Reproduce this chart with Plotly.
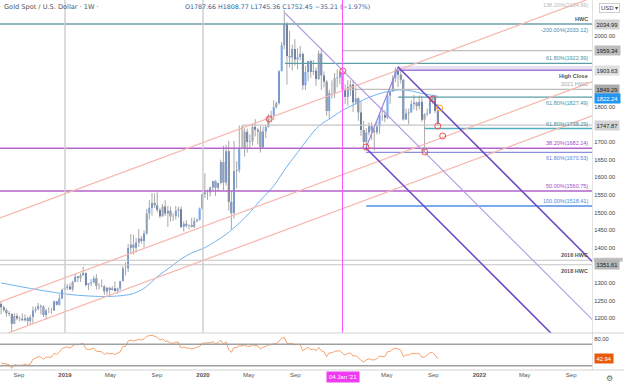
import plotly.graph_objects as go
import pandas as pd

# ---------------- data ----------------
week_start = pd.date_range("2018-07-16", periods=166, freq="7D")

opens = [1241,1231,1223,1214,1212,1184,1206,1199,1198,1194,1200,1192,1203,1222,1226,1235,1233,1209,1222,1222,1222,1248,1238,1256,1280,
         1286,1290,1282,1303,1318,1314,1322,1328,1294,1299,1302,1313,1292,1291,1290,1276,1286,1280,1285,1277,1284,1305,1341,1341,1399,1409,1400,1415,1426,1419,1440,1497,1513,1527,1520,1507,1489,1517,1497,1505,1489,1490,1505,1509,1459,1468,1462,1464,1459,1476,1479,1511,
         1552,1557,1557,1571,1589,1570,1584,1643,1585,1674,1530,1498,1617,1620,1683,1683,1729,1700,1702,1743,1735,1730,1685,1730,1743,1771,1775,1799,1810,1901,1975,2035,1944,1940,1964,1934,1941,1950,1861,1899,1930,1899,1902,1879,1951,1889,1871,1788,1839,1839,1881,1883,
         1898,1849,1828,1856,1863,1813,1824,1784,1734,1700,1727,1745,1732,1728,1744,1777,1777,1769,1831,1844,1881,1904,1891,1877,1764,1781,1784,1808,1812,1802,1814,1763,1779,1781,1818,1827,1787.66]
highs = [1245,1236,1228,1220,1214,1214,1214,1206,1214,1211,1204,1209,1233,1233,1243,1239,1237,1226,1231,1229,1250,1249,1268,1284,1298,
         1297,1299,1306,1326,1319,1327,1346,1330,1298,1311,1320,1325,1299,1310,1294,1288,1289,1291,1304,1287,1306,1348,1358,1411,1439,1437,1428,1453,1433,1449,1510,1535,1555,1554,1557,1513,1524,1535,1519,1517,1498,1519,1516,1517,1475,1478,1466,1485,1486,1483,1514,1553,
         1611,1565,1574,1590,1592,1585,1650,1689,1692,1703,1561,1703,1645,1747,1747,1739,1738,1722,1752,1765,1740,1745,1744,1746,1779,1789,1818,1815,1904,1984,2075,2040,2016,1976,1992,1966,1973,1954,1917,1930,1933,1932,1911,1960,1965,1900,1876,1848,1875,1896,1906,1901,
         1959,1864,1875,1875,1875,1855,1827,1816,1760,1740,1755,1756,1740,1758,1784,1798,1790,1843,1845,1890,1912,1916,1903,1877,1795,1795,1818,1834,1815,1832,1831,1782,1795,1823,1834,1833,1808.77]
lows = [1211,1218,1204,1206,1160,1183,1194,1191,1193,1191,1180,1182,1186,1215,1222,1211,1203,1196,1214,1212,1221,1236,1236,1256,1279,
        1280,1280,1276,1302,1302,1303,1320,1290,1280,1290,1298,1281,1281,1288,1266,1266,1266,1278,1275,1269,1279,1305,1321,1331,1382,1381,1386,1402,1412,1400,1437,1480,1491,1513,1500,1484,1488,1490,1459,1474,1476,1480,1486,1456,1446,1457,1452,1458,1456,1472,1477,1508,
        1541,1536,1546,1563,1547,1561,1580,1563,1576,1505,1451,1482,1568,1613,1680,1659,1670,1683,1690,1716,1693,1670,1681,1711,1741,1757,1762,1795,1806,1901,1963,1863,1911,1903,1917,1906,1932,1848,1848,1873,1882,1890,1859,1876,1848,1855,1775,1765,1823,1825,1855,1864,
        1817,1808,1803,1831,1785,1806,1760,1717,1687,1676,1719,1705,1677,1721,1723,1760,1756,1765,1808,1843,1870,1856,1866,1761,1762,1750,1783,1792,1789,1792,1757,1677,1773,1779,1809,1782,1745.36]
closes = [1231,1223,1214,1212,1184,1206,1199,1198,1194,1200,1192,1203,1222,1226,1235,1233,1209,1222,1222,1222,1248,1238,1256,1280,1286,
          1290,1282,1303,1318,1314,1322,1328,1294,1299,1302,1313,1292,1291,1290,1276,1286,1280,1285,1277,1284,1305,1341,1341,1399,1409,1400,1415,1426,1419,1440,1497,1513,1527,1520,1507,1489,1517,1497,1505,1489,1490,1505,1509,1459,1468,1462,1464,1459,1476,1479,1511,1552,
          1557,1557,1571,1589,1570,1584,1643,1585,1674,1530,1498,1617,1620,1683,1683,1729,1700,1702,1743,1735,1730,1685,1730,1743,1771,1775,1799,1810,1901,1975,2035,1944,1940,1964,1934,1941,1950,1861,1899,1930,1899,1902,1879,1951,1889,1871,1788,1839,1839,1881,1883,1898,
          1849,1828,1856,1863,1813,1824,1784,1734,1700,1727,1745,1732,1728,1744,1777,1777,1769,1831,1844,1881,1904,1891,1877,1764,1781,1784,1808,1812,1802,1814,1763,1779,1781,1818,1827,1788,1752.45]

rsi = [35,34,32,32,25,32,31,31,31,33,31,33,42,44,47,46,42,46,46,46,53,51,56,62,64,
       65,63,67,70,69,70,72,62,60,61,63,57,57,56,51,54,52,53,51,53,56,66,66,76,78,76,78,79,78,80,85,86,87,85,83,78,80,76,76,72,72,74,74,63,65,63,63,61,63,64,66,72,
       72,72,73,75,71,73,78,70,75,60,55,64,64,67,67,69,66,66,69,68,67,61,65,66,69,69,71,71,77,81,83,72,71,72,69,70,70,58,62,64,60,61,58,64,58,56,47,54,54,57,57,58,
       53,50,53,54,48,49,45,40,37,41,43,41,41,43,48,48,47,56,57,61,63,61,59,47,50,50,53,53,52,53,46,46,50,54,55,50,42.94]

ma_dates = ["2018-07-16","2018-09-03","2018-11-05","2019-01-07","2019-03-04","2019-05-06","2019-07-01","2019-08-05",
            "2019-09-02","2019-10-07","2019-11-04","2019-12-02","2020-01-06","2020-02-03","2020-03-02","2020-04-06",
            "2020-05-04","2020-06-01","2020-07-06","2020-08-03","2020-09-07","2020-10-05","2020-11-02","2020-12-07",
            "2021-01-04","2021-02-01","2021-03-01","2021-04-05","2021-05-03","2021-06-07","2021-07-05","2021-08-02","2021-09-13"]
ma_values = [1300,1290,1278,1268,1263,1262,1270,1290,1318,1345,1368,1385,1400,1418,1438,1470,
             1500,1535,1575,1620,1670,1710,1745,1770,1790,1805,1820,1835,1843,1848,1845,1838,1830]

# horizontal levels: (price, start date, colour, width)
x_end = "2022-10-26"
x_start = "2018-07-13"
levels = [
    (2034.99, x_start, "#6f9fab", 1.6),
    (1959.34, "2021-01-04", "#bdbdbd", 1.3),
    (1922.99, "2020-08-05", "#5b9ea6", 1.3),
    (1849.29, "2021-01-04", "#bdbdbd", 1.3),
    (1827.49, "2021-05-31", "#5b9ea6", 1.3),
    (1747.87, "2020-04-15", "#c4c4c4", 1.2),
    (1738.29, "2021-08-09", "#4fb0bf", 1.6),
    (1682.14, x_start, "#b265cc", 1.6),
    (1670.53, "2021-03-07", "#8c8fe0", 1.3),
    (1560.75, x_start, "#b265cc", 1.6),
    (1518.41, "2021-03-08", "#4f8fe0", 1.3),
    (1364.40, x_start, "#c4c4c4", 1.2),
    (1351.61, x_start, "#c4c4c4", 1.2),
]

salmon_dates = [x_start, x_end]
salmon_upper = [1484.3, 2109.4]
salmon_mid = [1245.9, 1870.9]
salmon_low = [1149.4, 1774.4]

p1_dates, p1_vals = ["2020-08-05", "2022-10-28"], [2066.2, 1194.8]
p2_dates, p2_vals = ["2021-05-31", "2022-10-28"], [1912.9, 1359.4]
p3_dates, p3_vals = ["2021-03-07", "2022-10-28"], [1683.0, 1038.7]
handle_dates, handle_vals = ["2021-03-07", "2021-05-31"], [1683.0, 1912.9]

band_dates = ["2021-05-31", x_end, x_end, "2021-05-31", "2021-05-31"]
band_vals = [1903.63, 1903.63, 1916.0, 1916.0, 1903.63]

circle_dates = ["2020-06-24", "2021-01-05", "2021-03-07", "2021-08-10", "2021-08-31", "2021-09-13", "2021-09-26"]
circle_vals = [1765.3, 1901.6, 1685.8, 1671.7, 1822.1, 1745.5, 1717.1]
orange_dates, orange_vals = ["2021-09-18"], [1796.6]

x_tick_vals = ["2018-09-01","2019-01-01","2019-05-01","2019-09-01","2020-01-01","2020-05-01","2020-09-01",
               "2021-05-01","2021-09-01","2022-01-01","2022-05-01","2022-09-01"]
x_tick_text = ["Sep","<b>2019</b>","May","Sep","<b>2020</b>","May","Sep","May","Sep","<b>2022</b>","May","Sep"]
y_tick_vals = [1200,1250,1300,1400,1450,1500,1550,1600,1650,1700,1800,2000]

# ---------------- figure ----------------
FONT = "Liberation Sans, Arial, sans-serif"
HFONT = "DejaVu Sans, sans-serif"
fig = go.Figure()

# wicks
wx, wy = [], []
for d, h, l in zip(week_start, highs, lows):
    wx += [d, d, None]
    wy += [l, h, None]
fig.add_trace(go.Scatter(x=wx, y=wy, mode="lines", line=dict(color="#a8a8a8", width=1),
                         hoverinfo="skip", xaxis="x", yaxis="y"))

up = [i for i in range(len(closes)) if closes[i] >= opens[i]]
dn = [i for i in range(len(closes)) if closes[i] < opens[i]]
bw = 4.6 * 86400000
fig.add_trace(go.Bar(x=[week_start[i] for i in up], y=[closes[i] - opens[i] for i in up],
                     base=[opens[i] for i in up], width=bw, marker=dict(color="#2f7cec", line=dict(width=0)),
                     xaxis="x", yaxis="y"))
fig.add_trace(go.Bar(x=[week_start[i] for i in dn], y=[opens[i] - closes[i] for i in dn],
                     base=[closes[i] for i in dn], width=bw, marker=dict(color="#203f7e", line=dict(width=0)),
                     xaxis="x", yaxis="y"))

# moving average
fig.add_trace(go.Scatter(x=ma_dates, y=ma_values, mode="lines", line=dict(color="#6fb4f2", width=1, shape="spline"),
                         xaxis="x", yaxis="y"))

# band (high close zone)
fig.add_trace(go.Scatter(x=band_dates, y=band_vals, mode="lines", fill="toself", fillcolor="rgba(190,170,230,0.35)",
                         line=dict(color="rgba(0,0,0,0)", width=0), xaxis="x", yaxis="y"))

# horizontal levels
for price, start, col, w in levels:
    fig.add_trace(go.Scatter(x=[start, x_end], y=[price, price], mode="lines", line=dict(color=col, width=w),
                             xaxis="x", yaxis="y"))
fig.add_trace(go.Scatter(x=["2021-05-31", x_end], y=[1903.63, 1903.63], mode="lines",
                         line=dict(color="#a57fd6", width=1.4), xaxis="x", yaxis="y"))

# small fib verticals
fig.add_trace(go.Scatter(x=["2020-04-15", "2020-04-15", None, "2021-08-09", "2021-08-09"],
                         y=[1747.87, 1682.14, None, 1738.29, 1670.53], mode="lines",
                         line=dict(color="#b0b0b0", width=1), xaxis="x", yaxis="y"))

# salmon channel
for vals in (salmon_upper, salmon_mid, salmon_low):
    fig.add_trace(go.Scatter(x=salmon_dates, y=vals, mode="lines", line=dict(color="#f7b5ad", width=1.2),
                             xaxis="x", yaxis="y"))

# purple descending lines
fig.add_trace(go.Scatter(x=p1_dates, y=p1_vals, mode="lines", line=dict(color="#b39ae6", width=1.1), xaxis="x", yaxis="y"))
fig.add_trace(go.Scatter(x=handle_dates, y=handle_vals, mode="lines", line=dict(color="#9a7fe0", width=1.1), xaxis="x", yaxis="y"))
fig.add_trace(go.Scatter(x=p2_dates, y=p2_vals, mode="lines", line=dict(color="#6a45c6", width=1.5), xaxis="x", yaxis="y"))
fig.add_trace(go.Scatter(x=p3_dates, y=p3_vals, mode="lines", line=dict(color="#6a45c6", width=1.5), xaxis="x", yaxis="y"))

# circles
fig.add_trace(go.Scatter(x=circle_dates, y=circle_vals, mode="markers",
                         marker=dict(size=6, color="rgba(0,0,0,0)", line=dict(color="#ef5350", width=1)),
                         xaxis="x", yaxis="y"))
fig.add_trace(go.Scatter(x=orange_dates, y=orange_vals, mode="markers",
                         marker=dict(size=6, color="rgba(0,0,0,0)", line=dict(color="#f5a623", width=1)),
                         xaxis="x", yaxis="y"))

# RSI
fig.add_trace(go.Scatter(x=week_start, y=rsi, mode="lines", line=dict(color="#f6a26c", width=1),
                         xaxis="x", yaxis="y2"))
for lv in (70, 30):
    fig.add_trace(go.Scatter(x=[x_start, x_end], y=[lv, lv], mode="lines", line=dict(color="#a0a0a0", width=1.4),
                             xaxis="x", yaxis="y2"))

# vertical lines
shapes = [
    dict(type="line", xref="x", yref="paper", x0="2019-01-01", x1="2019-01-01", y0=0.1, y1=1, line=dict(color="#cccccc", width=1.4)),
    dict(type="line", xref="x", yref="paper", x0="2020-01-01", x1="2020-01-01", y0=0.1, y1=1, line=dict(color="#cccccc", width=1.4)),
    dict(type="line", xref="x", yref="paper", x0="2021-01-04", x1="2021-01-04", y0=0.1, y1=1, line=dict(color="#ff55ff", width=1)),
    dict(type="line", xref="paper", yref="paper", x0=0, x1=1.06, y0=0.1, y1=0.1, line=dict(color="#d4d4d4", width=1.2)),
    dict(type="line", xref="paper", yref="paper", x0=0, x1=1.06, y0=0, y1=0, line=dict(color="#d4d4d4", width=1.2)),
    # partly hidden 2016 HWC price tag
    dict(type="rect", xref="paper", yref="y", x0=1.003, x1=1.052, y0=1360.5, y1=1371.5,
         fillcolor="#c2c2c2", line=dict(width=0)),
]

ann = []
def lab(text, price, color, above=True, bold=False, anchor=None):
    t = f"<b>{text}</b>" if bold else text
    ya = anchor if anchor else ("bottom" if above else "top")
    ann.append(dict(text=t, xref="paper", yref="y", x=0.9966, y=price, xanchor="right",
                    yanchor=ya, yshift=0 if above else -1, showarrow=False,
                    font=dict(size=5.5, color=color, family=FONT)))

lab("138.20%(2104.99)", 2103.0, "#b8b8b8", anchor="top")
lab("HWC", 2034.99, "#555555", True, True)
lab("-200.00%(2033.12)", 2034.99, "#3f88b3", False)
lab("61.80%(1922.99)", 1922.99, "#3f93a3")
lab("High Close", 1903.63, "#555555", False, True)
lab("2021 HWC", 1849.29, "#a6a6a6")
lab("61.80%(1827.49)", 1827.49, "#3f93a3", False)
lab("61.80%(1738.29)", 1738.29, "#3f93a3")
lab("38.20%(1682.14)", 1682.14, "#a645c4")
lab("61.80%(1670.53)", 1670.53, "#5a7fd8", False)
lab("50.00%(1560.75)", 1560.75, "#a645c4")
lab("100.00%(1518.41)", 1518.41, "#4a86d6")
lab("2016 HWC", 1364.4, "#555555", True, True)
lab("2018 HWC", 1351.61, "#555555", False, True)

def box(text, price, bg, fg="#222222", yref="y"):
    ann.append(dict(text=text, xref="paper", yref=yref, x=1.003, y=price, xanchor="left", yanchor="middle",
                    showarrow=False, bgcolor=bg, borderpad=1.5, font=dict(size=5.8, color=fg, family=FONT)))

box("2034.99", 2034.99, "#d2d2d2")
box("1959.34", 1959.34, "#bdbdbd")
box("1903.63", 1903.63, "#dedede")
box("1849.29", 1849.29, "#ababab")
box("1822.24", 1822.24, "#2196f3", "#ffffff")
box("1747.87", 1747.87, "#d4d4d4")
box("1351.61", 1351.61, "#b5b5b5")
box("42.94", 42.94, "#e8590c", "#ffffff", "y2")

ann.append(dict(text="USD ▾", xref="paper", yref="paper", x=1.048, y=0.993, xanchor="right", yanchor="top",
                showarrow=False, bgcolor="#ffffff", bordercolor="#cfcfcf", borderwidth=1, borderpad=1,
                font=dict(size=6, color="#444444", family=FONT)))
ann.append(dict(text="Gold Spot / U.S. Dollar · 1W ·", xref="paper", yref="paper", x=0.004, y=0.998,
                xanchor="left", yanchor="top", showarrow=False, font=dict(size=6.6, color="#555555", family=HFONT)))
ann.append(dict(text="O1787.66 H1808.77 L1745.36 C1752.45 −35.21 (−1.97%)", xref="paper", yref="paper",
                x=183 / 592, y=0.998, xanchor="left", yanchor="top", showarrow=False,
                font=dict(size=6.3, color="#2f5d9e", family=HFONT)))
ann.append(dict(text="04 Jan '21", xref="x", yref="paper", x="2021-01-04", y=0, xanchor="center", yanchor="top",
                yshift=-1, showarrow=False, bgcolor="#f03cf0", borderpad=2,
                font=dict(size=6, color="#ffffff", family=FONT)))
ann.append(dict(text="⚙", xref="paper", yref="paper", x=1.03, y=0, xanchor="center", yanchor="top",
                yshift=-2, showarrow=False, font=dict(size=8, color="#666666", family="DejaVu Sans")))

fig.update_layout(
    width=624, height=383,
    margin=dict(l=0, r=32, t=0, b=13),
    paper_bgcolor="#ffffff", plot_bgcolor="#ffffff",
    showlegend=False, barmode="overlay", hovermode=False,
    shapes=shapes, annotations=ann,
    xaxis=dict(type="date", range=[x_start, x_end], anchor="y2", domain=[0, 1], showgrid=False, zeroline=False,
               automargin=False, tickvals=x_tick_vals, ticktext=x_tick_text, ticks="",
               tickfont=dict(size=6, color="#555555", family=FONT)),
    yaxis=dict(domain=[0.1, 1], range=[1157.9, 2103.1], side="right", showgrid=False, zeroline=False,
               automargin=False, tickvals=y_tick_vals, tickformat=".2f", ticks="", showline=True,
               linecolor="#e3e3e3", linewidth=1, tickfont=dict(size=5.8, color="#444444", family=FONT)),
    yaxis2=dict(domain=[0, 0.1], range=[22.0, 91.1], side="right", showgrid=False, zeroline=False,
                automargin=False, tickvals=[80], tickformat=".2f", ticks="", showline=True,
                linecolor="#e3e3e3", linewidth=1, tickfont=dict(size=5.8, color="#444444", family=FONT)),
)

fig.write_html("out.html", config={"displayModeBar": False, "staticPlot": True},
               post_script="document.body.style.margin='0';document.body.style.overflow='hidden';")
